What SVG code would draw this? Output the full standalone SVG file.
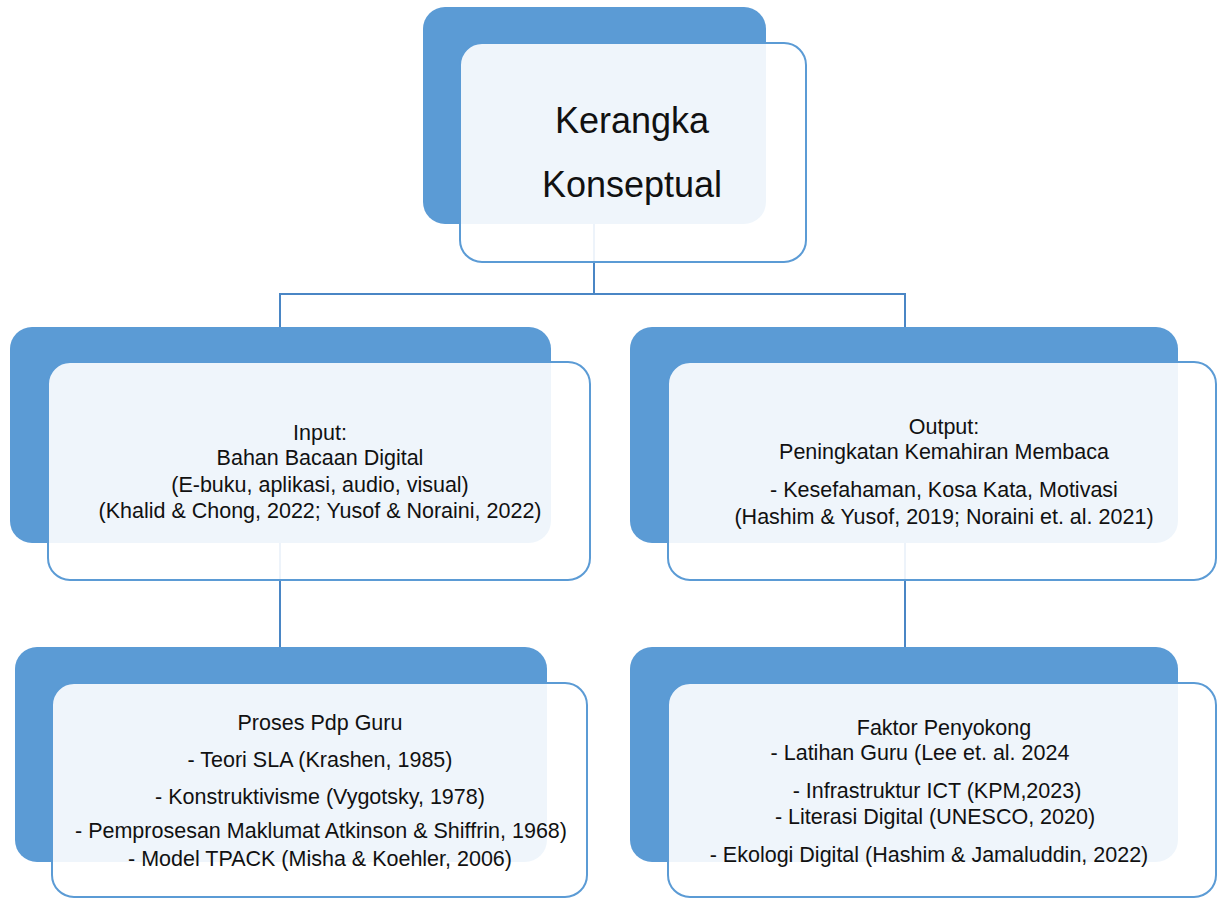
<svg xmlns="http://www.w3.org/2000/svg" width="1217" height="899" viewBox="0 0 1217 899">
<style>
.back{fill:#5B9BD5;stroke:none}
.front{fill:#ffffff;fill-opacity:0.9;stroke:#5B9BD5;stroke-width:2}
.conn{fill:none;stroke:#4A86C5;stroke-width:2}
.t{font-family:"Liberation Sans",Arial,sans-serif;font-size:21.5px;fill:#111;text-anchor:middle}
.big{font-family:"Liberation Sans",Arial,sans-serif;font-size:36px;fill:#111;text-anchor:middle}
</style>
<rect width="1217" height="899" fill="#ffffff"/>
<g id="connectors">
<path class="conn" d="M594 224 V294 M280 294 H905 M280 293 V327 M905 293 V327"/>
<path class="conn" d="M280 543 V647"/>
<path class="conn" d="M905 543 V647"/>
</g>
<g id="node-kerangka">
<rect class="back" x="423" y="7" width="343" height="217" rx="22"/>
<rect class="front" x="460" y="43" width="346" height="219" rx="22"/>
<text class="big" x="632" y="133">Kerangka</text>
<text class="big" x="632" y="197">Konseptual</text>
</g>
<g id="node-input">
<rect class="back" x="10" y="327" width="541" height="216" rx="22"/>
<rect class="front" x="48" y="362" width="542" height="218" rx="22"/>
<text class="t" x="320" y="440">Input:</text>
<text class="t" x="320" y="465">Bahan Bacaan Digital</text>
<text class="t" x="320" y="492">(E-buku, aplikasi, audio, visual)</text>
<text class="t" x="320" y="518">(Khalid &amp; Chong, 2022; Yusof &amp; Noraini, 2022)</text>
</g>
<g id="node-output">
<rect class="back" x="630" y="327" width="548" height="216" rx="22"/>
<rect class="front" x="668" y="362" width="548" height="218" rx="22"/>
<text class="t" x="944" y="434">Output:</text>
<text class="t" x="944" y="459">Peningkatan Kemahiran Membaca</text>
<text class="t" x="944" y="497">- Kesefahaman, Kosa Kata, Motivasi</text>
<text class="t" x="944" y="524">(Hashim &amp; Yusof, 2019; Noraini et. al. 2021)</text>
</g>
<g id="node-proses">
<rect class="back" x="15" y="647" width="532" height="215" rx="22"/>
<rect class="front" x="52" y="683" width="535" height="214" rx="22"/>
<text class="t" x="320" y="730">Proses Pdp Guru</text>
<text class="t" x="320" y="767">- Teori SLA (Krashen, 1985)</text>
<text class="t" x="320" y="804">- Konstruktivisme (Vygotsky, 1978)</text>
<text class="t" x="321" y="838">- Pemprosesan Maklumat Atkinson &amp; Shiffrin, 1968)</text>
<text class="t" x="320" y="866">- Model TPACK (Misha &amp; Koehler, 2006)</text>
</g>
<g id="node-faktor">
<rect class="back" x="630" y="647" width="548" height="215" rx="22"/>
<rect class="front" x="668" y="683" width="548" height="214" rx="22"/>
<text class="t" x="944" y="735">Faktor Penyokong</text>
<text class="t" x="920" y="760">- Latihan Guru (Lee et. al. 2024</text>
<text class="t" x="937" y="798">- Infrastruktur ICT (KPM,2023)</text>
<text class="t" x="935" y="824">- Literasi Digital (UNESCO, 2020)</text>
<text class="t" x="929" y="862">- Ekologi Digital (Hashim &amp; Jamaluddin, 2022)</text>
</g>
</svg>
